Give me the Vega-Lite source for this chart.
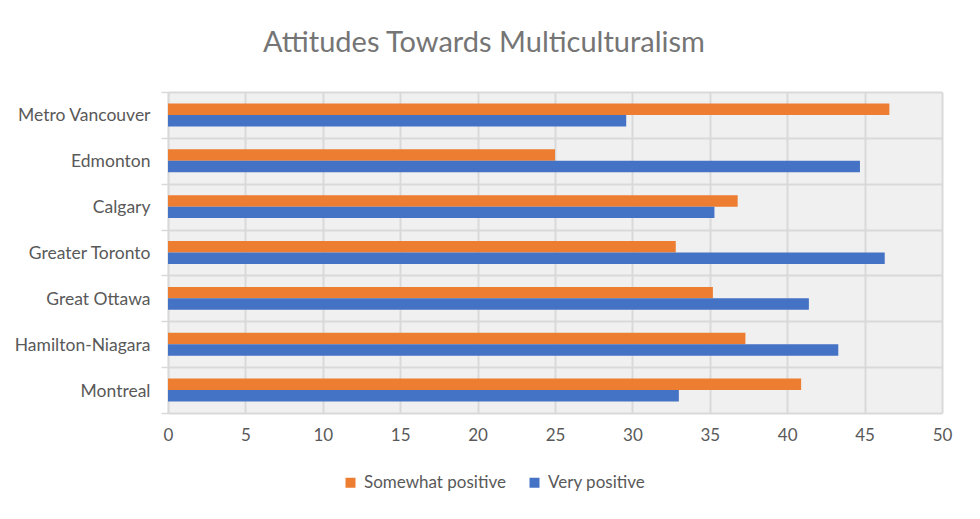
{
  "$schema": "https://vega.github.io/schema/vega-lite/v6.json",
  "width": 774,
  "height": 321,
  "autosize": {"type": "none"},
  "padding": {"left": 168, "top": 92, "right": 38, "bottom": 106},
  "background": "white",
  "title": {
    "text": "Attitudes Towards Multiculturalism",
    "font": "Lato",
    "fontSize": 29,
    "fontWeight": "normal",
    "color": "#757575",
    "anchor": "middle",
    "dx": -71,
    "offset": 25
  },
  "data": {
    "values": [
      {"region": "Metro Vancouver", "attitude": "Somewhat positive", "pct": 46.6},
      {"region": "Metro Vancouver", "attitude": "Very positive", "pct": 29.6},
      {"region": "Edmonton", "attitude": "Somewhat positive", "pct": 25.0},
      {"region": "Edmonton", "attitude": "Very positive", "pct": 44.7},
      {"region": "Calgary", "attitude": "Somewhat positive", "pct": 36.8},
      {"region": "Calgary", "attitude": "Very positive", "pct": 35.3},
      {"region": "Greater Toronto", "attitude": "Somewhat positive", "pct": 32.8},
      {"region": "Greater Toronto", "attitude": "Very positive", "pct": 46.3},
      {"region": "Great Ottawa", "attitude": "Somewhat positive", "pct": 35.2},
      {"region": "Great Ottawa", "attitude": "Very positive", "pct": 41.4},
      {"region": "Hamilton-Niagara", "attitude": "Somewhat positive", "pct": 37.3},
      {"region": "Hamilton-Niagara", "attitude": "Very positive", "pct": 43.3},
      {"region": "Montreal", "attitude": "Somewhat positive", "pct": 40.9},
      {"region": "Montreal", "attitude": "Very positive", "pct": 33.0}
    ]
  },
  "mark": {"type": "bar"},
  "encoding": {
    "y": {
      "field": "region",
      "type": "nominal",
      "sort": null,
      "scale": {"paddingInner": 0, "paddingOuter": 0},
      "axis": {
        "title": null,
        "tickBand": "extent",
        "grid": true,
        "gridColor": "#d9d9d9",
        "gridWidth": 2,
        "domainColor": "#d9d9d9",
        "domainWidth": 1.5,
        "tickColor": "#d9d9d9",
        "tickWidth": 1.5,
        "tickSize": 7,
        "labelFont": "Lato",
        "labelFontSize": 17.5,
        "labelColor": "#595959",
        "labelPadding": 11,
        "labelOffset": 1
      }
    },
    "yOffset": {
      "field": "attitude",
      "type": "nominal",
      "sort": ["Somewhat positive", "Very positive"],
      "scale": {"paddingInner": 0, "paddingOuter": 1.18}
    },
    "x": {
      "field": "pct",
      "type": "quantitative",
      "scale": {"domain": [0, 50]},
      "axis": {
        "title": null,
        "values": [0, 5, 10, 15, 20, 25, 30, 35, 40, 45, 50],
        "grid": true,
        "gridColor": "#d9d9d9",
        "gridWidth": 2,
        "domain": false,
        "ticks": false,
        "labelFlush": false,
        "labelFont": "Lato",
        "labelFontSize": 17,
        "labelColor": "#595959",
        "labelPadding": 14
      }
    },
    "color": {
      "field": "attitude",
      "type": "nominal",
      "scale": {
        "domain": ["Somewhat positive", "Very positive"],
        "range": ["#ED7D31", "#4472C4"]
      },
      "legend": {
        "title": null,
        "orient": "none",
        "direction": "horizontal",
        "legendX": 174,
        "legendY": 382,
        "symbolType": "square",
        "symbolSize": 100,
        "symbolStrokeWidth": 0,
        "labelFont": "Lato",
        "labelFontSize": 17,
        "labelColor": "#595959",
        "columnPadding": 20,
        "labelOffset": 5
      }
    }
  },
  "config": {
    "view": {"fill": "#f0f0f0", "stroke": null}
  }
}
